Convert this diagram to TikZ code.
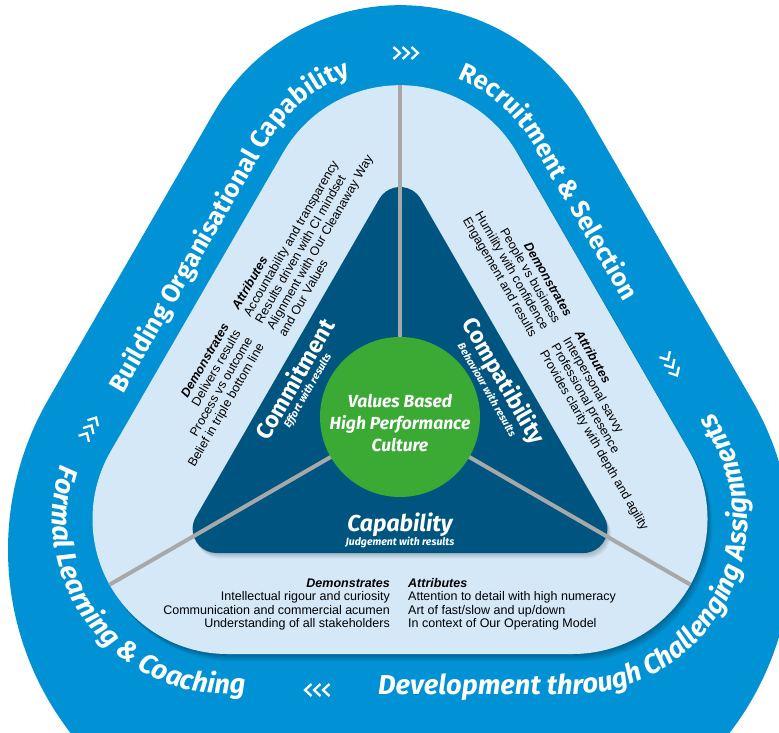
\documentclass[tikz,border=0pt]{standalone}
\usepackage{fontspec}
\setmainfont{Liberation Sans}
\newfontfamily\ff{Fira Sans}
\usetikzlibrary{decorations.text,calc}
\definecolor{ring}{HTML}{0092D4}
\definecolor{lblue}{HTML}{D4E8F8}
\definecolor{navy}{HTML}{005580}
\definecolor{vgreen}{HTML}{3AAA35}
\definecolor{divgray}{HTML}{A8A8A8}
\newcommand\ringA{\ff\bfseries\fontsize{25.5}{25.5}\selectfont}
\newcommand\ringB{\ff\bfseries\itshape\fontsize{27.3}{27.3}\selectfont}
\newcommand\panelfont{\fontsize{12.5}{13.5}\selectfont}
\newcommand\segfont{\ff\bfseries\fontsize{23}{23}\selectfont}
\newcommand\segitfont{\ff\bfseries\itshape\fontsize{23}{23}\selectfont}
\newcommand\subfont{\ff\bfseries\itshape\fontsize{10.5}{10.5}\selectfont}
\newcommand\corefont{\ff\bfseries\itshape\fontsize{17.5}{22}\selectfont}
\newcommand\hd[1]{\textbf{\textit{#1}}}
\def\OBpath{(213.8,112.7) arc[start angle=210,end angle=330,radius=215] -- (751.8,399.6) arc[start angle=-30,end angle=90,radius=300] -- (308,849.6) arc[start angle=90,end angle=210,radius=300] -- cycle}
\def\LBpath{(283.1,152.7) arc[start angle=210,end angle=330,radius=135] -- (689.4,451.5) arc[start angle=-30,end angle=90,radius=135] -- (227.5,654) arc[start angle=90,end angle=210,radius=135] -- cycle}
\def\DKpath{(379.2,199) arc[start angle=210,end angle=330,radius=24] -- (604.2,517) arc[start angle=-30,end angle=90,radius=24] -- (216.6,553) arc[start angle=90,end angle=210,radius=24] -- cycle}
\begin{document}
\begin{tikzpicture}[x=1pt,y=-1pt,
  chev/.style={white, line width=2.3pt, line join=miter},
  divider/.style={draw=divgray, line width=4pt},
  paneltxt/.style={inner sep=0pt, font=\panelfont, text=black},
  seglabel/.style={inner sep=0pt, text=white, font=\segfont},
  sublabel/.style={inner sep=0pt, text=white, font=\subfont},
  ringtext/.style={decorate, decoration={text along path, text color=white, text align=left}}]
\useasboundingbox (0,0) rectangle (779,733);
\clip (0,0) rectangle (779,733);
\fill[ring] \OBpath;
\foreach \s in {1,...,6} \fill[black,opacity=0.05,shift={(\s*0.8,\s*1.2)}] \LBpath;
\fill[lblue] \LBpath;
\foreach \s in {1,...,5} \fill[black,opacity=0.045,shift={(\s*0.7,\s*1.1)}] \DKpath;
\fill[navy] \DKpath;
\coordinate (hub) at (400,417);
\begin{scope}
  \clip \LBpath;
  \foreach \a in {270,150,30} \draw[divider] (hub) -- ++(\a:360);
\end{scope}
\node[circle, fill=vgreen, minimum size=160pt, inner sep=0pt] (core) at (hub) {};
\node[anchor=base, inner sep=0pt, text=white, font=\corefont] (coretext) at (400,407)
  {\begin{tabular}[t]{@{}c@{}}Values Based\\High Performance\\Culture\end{tabular}};
% segment labels
\node[seglabel, rotate=60] (commit) at (294,379) {Commitment};
\node[sublabel, rotate=60] (commitsub) at (308,391) {Effort with results};
\node[seglabel, rotate=-60] (compat) at (503,381.5) {Compatibility};
\node[sublabel, rotate=-60] (compatsub) at (487.5,389.5) {Behaviour with results};
\node[seglabel, font=\segitfont, anchor=base] (capab) at (400,531) {Capability};
\node[sublabel, anchor=base] (capabsub) at (400,545) {Judgement with results};
% bottom panel
\begin{scope}[shift={(399,587)}]
  \node[paneltxt, anchor=base east] (capdem) at (-9,0) {\begin{tabular}[t]{@{}r@{}}\hd{Demonstrates}\\Intellectual rigour and curiosity\\Communication and commercial acumen\\Understanding of all stakeholders\end{tabular}};
  \node[paneltxt, anchor=base west] (capatt) at (9,0) {\begin{tabular}[t]{@{}l@{}}\hd{Attributes}\\Attention to detail with high numeracy\\Art of fast/slow and up/down\\In context of Our Operating Model\end{tabular}};
\end{scope}
% left panel
\begin{scope}[shift={(234,318.5)}, rotate=60, transform shape]
  \node[paneltxt, anchor=base east] (comdem) at (-9,0) {\begin{tabular}[t]{@{}r@{}}\hd{Demonstrates}\\Delivers results\\Process vs outcome\\Belief in triple bottom line\end{tabular}};
  \node[paneltxt, anchor=base west] (comatt) at (9,0) {\begin{tabular}[t]{@{}l@{}}\hd{Attributes}\\Accountability and transparency\\Results driven with CI mindset\\Alignment with Our Cleanaway Way\\and Our Values\end{tabular}};
\end{scope}
% right panel
\begin{scope}[shift={(570,325.5)}, rotate=-60, transform shape]
  \node[paneltxt, anchor=base east] (cpdem) at (-9,0) {\begin{tabular}[t]{@{}r@{}}\hd{Demonstrates}\\People vs business\\Humility with confidence\\Engagement and results\end{tabular}};
  \node[paneltxt, anchor=base west] (cpatt) at (9,0) {\begin{tabular}[t]{@{}l@{}}\hd{Attributes}\\Interpersonal savvy\\Professional presence\\Provides clarity with depth and agility\end{tabular}};
\end{scope}
% ring texts
\path[ringtext, decoration={text={|\ringA|Building Organisational Capability}}]
  (123,394) -- (267.5,143.7) arc[start angle=210,end angle=330,radius=153] -- ++(60:200);
\path[ringtext, decoration={text={|\ringA|Recruitment {\&} Selection}}]
  (457.3,78.3) arc[start angle=292,end angle=330,radius=153] -- ++(60:400);
\path[ringtext, decoration={text={|\ringB|Formal Learning {\&} Coaching}}]
  (61.1,464.9) arc[start angle=198,end angle=90,radius=175] -- ++(0:300);
\path[ringtext, decoration={text={|\ringB|Development through Challenging Assignments}}]
  (378,694) -- (572.5,694) arc[start angle=90,end angle=-30,radius=175] -- ++(240:300);
% chevrons
\begin{scope}[shift={(406,53)}]
  \foreach \i in {-1,0,1} \draw[chev] (\i*9-3.5,-6) -- (\i*9+3,0) -- (\i*9-3.5,6);
\end{scope}
\begin{scope}[shift={(671,365)}, rotate=-60]
  \foreach \i in {-1,0,1} \draw[chev] (\i*9-3.5,-6) -- (\i*9+3,0) -- (\i*9-3.5,6);
\end{scope}
\begin{scope}[shift={(317,690)}, rotate=180]
  \foreach \i in {-1,0,1} \draw[chev] (\i*9-3.5,-6) -- (\i*9+3,0) -- (\i*9-3.5,6);
\end{scope}
\begin{scope}[shift={(90,428)}, rotate=60]
  \foreach \i in {-1,0,1} \draw[chev] (\i*9-3.5,-6) -- (\i*9+3,0) -- (\i*9-3.5,6);
\end{scope}
\end{tikzpicture}
\end{document}
